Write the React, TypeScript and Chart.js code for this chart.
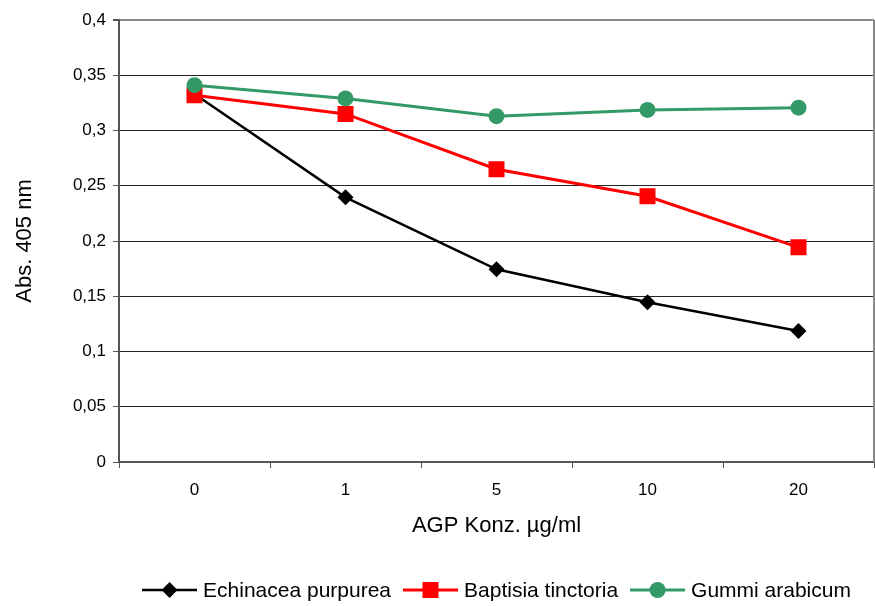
import React, { useEffect, useRef } from "react";
import { Chart, registerables } from "chart.js";

Chart.register(...registerables);

const categories = ["0", "1", "5", "10", "20"];
const echinacea = [0.333, 0.2395, 0.1744, 0.1445, 0.1186];
const baptisia = [0.332, 0.315, 0.265, 0.2405, 0.1943];
const gummi = [0.341, 0.329, 0.313, 0.3186, 0.3207];
const seriesNames = ["Echinacea purpurea", "Baptisia tinctoria", "Gummi arabicum"];
const yMin = 0;
const yMax = 0.4;
const yStep = 0.05;

const FONT = '"Liberation Sans", Arial, sans-serif';

const frameAndLegend = {
  id: "frameAndLegend",
  afterDraw(chart: any) {
    const { ctx, chartArea } = chart;
    ctx.save();
    // right border
    ctx.strokeStyle = "#8a8a8a";
    ctx.lineWidth = 2;
    ctx.beginPath();
    ctx.moveTo(chartArea.right, chartArea.top);
    ctx.lineTo(chartArea.right, chartArea.bottom);
    ctx.stroke();

    // legend
    const items = chart.data.datasets.map((d: any) => ({
      label: d.label,
      color: d.borderColor,
      style: d.pointStyle,
      radius: d.pointRadius,
      lw: d.borderWidth,
      order: d.legendIndex,
    }));
    items.sort((a: any, b: any) => a.order - b.order);
    ctx.font = `21px ${FONT}`;
    const lineLen = 55;
    const gapLT = 6;
    const gapItem = 12;
    let total = 0;
    const widths = items.map((it: any) => ctx.measureText(it.label).width);
    widths.forEach((w: number) => (total += lineLen + gapLT + w));
    total += gapItem * (items.length - 1);
    const cx = (chartArea.left + chartArea.right) / 2;
    let x = cx - total / 2;
    const y = 590;
    items.forEach((it: any, i: number) => {
      ctx.strokeStyle = it.color;
      ctx.lineWidth = it.lw;
      ctx.beginPath();
      ctx.moveTo(x, y);
      ctx.lineTo(x + lineLen, y);
      ctx.stroke();
      ctx.fillStyle = it.color;
      const px = x + lineLen / 2;
      ctx.beginPath();
      if (it.style === "rectRot") {
        const r = it.radius;
        ctx.moveTo(px, y - r);
        ctx.lineTo(px + r, y);
        ctx.lineTo(px, y + r);
        ctx.lineTo(px - r, y);
        ctx.closePath();
      } else if (it.style === "rect") {
        const s = Math.SQRT1_2 * it.radius;
        ctx.rect(px - s, y - s, 2 * s, 2 * s);
      } else {
        ctx.arc(px, y, it.radius, 0, Math.PI * 2);
      }
      ctx.fill();
      ctx.fillStyle = "#000";
      ctx.textBaseline = "middle";
      ctx.textAlign = "left";
      ctx.fillText(it.label, x + lineLen + gapLT, y + 1);
      x += lineLen + gapLT + widths[i] + gapItem;
    });
    ctx.restore();
  },
};

function fmt(v: number) {
  return parseFloat(v.toFixed(2)).toString().replace(".", ",");
}

export default function App() {
  const ref = useRef<HTMLCanvasElement | null>(null);
  useEffect(() => {
    document.body.style.margin = "0";
    const canvas = ref.current!;
    const chart = new Chart(canvas, {
      type: "line",
      data: {
        labels: categories,
        datasets: [
          {
            label: seriesNames[2],
            data: gummi,
            borderColor: "#339966",
            backgroundColor: "#339966",
            borderWidth: 3,
            pointStyle: "circle",
            pointRadius: 8,
            pointBorderWidth: 0,
            order: 0,
            legendIndex: 2,
          } as any,
          {
            label: seriesNames[1],
            data: baptisia,
            borderColor: "#ff0000",
            backgroundColor: "#ff0000",
            borderWidth: 3,
            pointStyle: "rect",
            pointRadius: 11.3,
            pointBorderWidth: 0,
            order: 1,
            legendIndex: 1,
          } as any,
          {
            label: seriesNames[0],
            data: echinacea,
            borderColor: "#000000",
            backgroundColor: "#000000",
            borderWidth: 2.5,
            pointStyle: "rectRot",
            pointRadius: 8,
            pointBorderWidth: 0,
            order: 2,
            legendIndex: 0,
          } as any,
        ],
      },
      options: {
        responsive: false,
        animation: false,
        layout: { autoPadding: false, padding: { left: 0, right: 1, top: 20, bottom: 0 } },
        plugins: {
          legend: { display: false },
          tooltip: { enabled: false },
        },
        elements: { line: { tension: 0 } },
        scales: {
          x: {
            type: "category",
            offset: true,
            grid: {
              offset: true,
              drawOnChartArea: false,
              tickLength: 6,
              tickColor: "#555",
              lineWidth: 1,
            },
            border: { color: "#555", width: 2 },
            ticks: {
              color: "#000",
              font: { family: FONT, size: 17 },
              padding: 12,
              maxRotation: 0,
            },
            title: {
              display: true,
              text: "AGP Konz. µg/ml",
              color: "#000",
              font: { family: FONT, size: 22 },
              padding: { top: 0, bottom: 67 },
            },
            afterFit: (s: any) => {
              s.height = 144;
              s.paddingLeft = 0;
              s.paddingRight = 0;
            },
          },
          y: {
            min: yMin,
            max: yMax,
            ticks: {
              stepSize: yStep,
              color: "#000",
              font: { family: FONT, size: 17 },
              padding: 7,
              callback: (v: any) => fmt(Number(v)),
            },
            grid: {
              tickLength: 6,
              tickColor: "#555",
              color: (c: any) =>
                c.tick && Math.abs(c.tick.value - yMax) < 1e-9
                  ? "#8a8a8a"
                  : c.tick && c.tick.value === 0
                  ? "rgba(0,0,0,0)"
                  : "#222",
              lineWidth: (c: any) =>
                c.tick && Math.abs(c.tick.value - yMax) < 1e-9 ? 2 : 1,
            },
            border: { color: "#555", width: 2 },
            title: {
              display: true,
              text: "Abs. 405 nm",
              color: "#000",
              font: { family: FONT, size: 22 },
              padding: { top: 12, bottom: 0 },
            },
            afterFit: (s: any) => {
              s.width = 119;
            },
          },
        },
      },
      plugins: [frameAndLegend],
    });
    return () => chart.destroy();
  }, []);
  return (
    <div style={{ position: "absolute", left: 0, top: 0, width: 875, height: 606 }}>
      <canvas ref={ref} width={875} height={606} style={{ display: "block", width: 875, height: 606 }} />
    </div>
  );
}
